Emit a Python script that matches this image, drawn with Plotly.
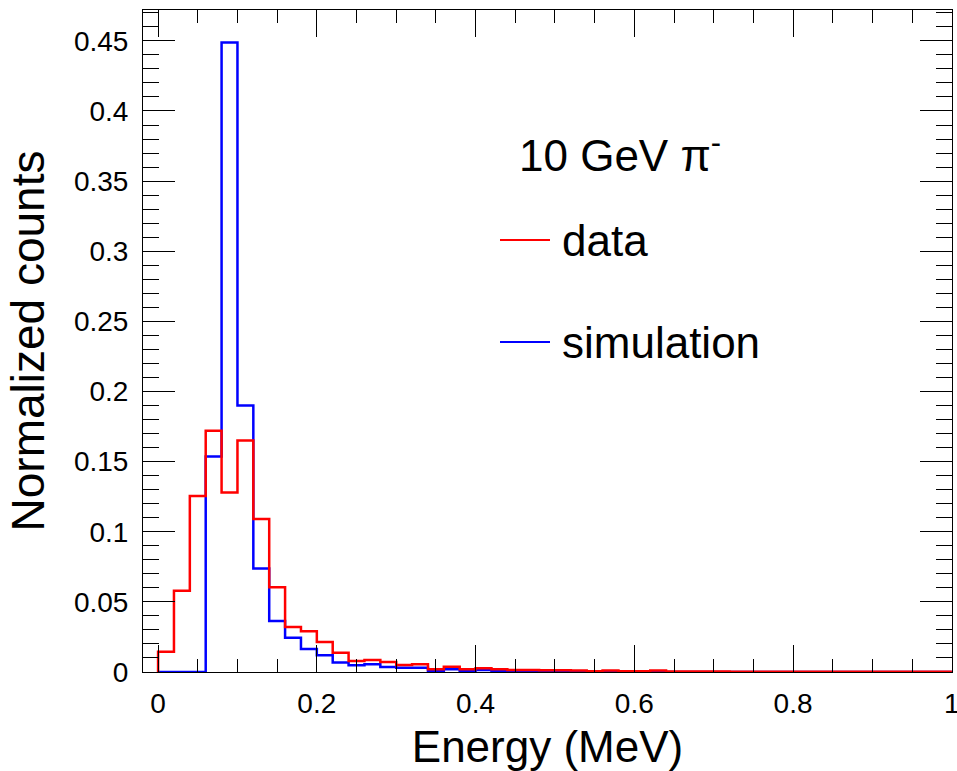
import numpy as np
import plotly.graph_objects as go

# ---- data ----
bin_lo, bin_hi, n_bins = 0.0, 1.0, 50
data_counts = [0.0145, 0.058, 0.1255, 0.172, 0.128, 0.165, 0.109, 0.0605, 0.032, 0.029,
               0.0214, 0.0138, 0.0079, 0.0086, 0.0071, 0.005, 0.0055, 0.0019, 0.0037, 0.0019,
               0.0026, 0.0019, 0.0014, 0.0014, 0.0013, 0.0012, 0.0011, 0.0006, 0.0011, 0.0005,
               0.0005, 0.001, 0.0004, 0.0003, 0.0003, 0.0003, 0.0002, 0.0002, 0.0002, 0.0002,
               0.0002, 0.0002, 0.0002, 0.0002, 0.0002, 0.0002, 0.0002, 0.0002, 0.0002, 0.0002]
sim_counts = [0.0, 0.0, 0.0, 0.1536, 0.4488, 0.19, 0.0738, 0.0364, 0.0245, 0.0164,
              0.012, 0.0067, 0.0048, 0.0055, 0.0036, 0.0031, 0.003, 0.0008, 0.002, 0.0008,
              0.0014, 0.0008, 0.0006, 0.0005, 0.0004, 0.0003, 0.0001, 0.0001, 0.0, 0.0,
              0.0, 0.0, 0.0, 0.0, 0.0, 0.0, 0.0, 0.0, 0.0, 0.0,
              0.0, 0.0, 0.0, 0.0, 0.0, 0.0, 0.0, 0.0, 0.0, 0.0]
series_names = ["data", "simulation"]
x_tick_vals = [0, 0.2, 0.4, 0.6, 0.8, 1.0]
x_tick_text = ["0", "0.2", "0.4", "0.6", "0.8", "1"]
header_text = "10 GeV π<sup>-</sup>"
x_title = "Energy (MeV)"
y_title = "Normalized counts"

edges = np.linspace(bin_lo, bin_hi, n_bins + 1)


def step_xy(vals):
    xs = np.concatenate([[edges[0]], edges[:-1], [edges[-1]]])
    ys = np.concatenate([[0.0], vals, [vals[-1]]])
    return xs, ys


FONT = "Liberation Sans, Arial, Helvetica, sans-serif"
RED = "#ff0000"
BLUE = "#0000ff"

fig = go.Figure()
xs, ys = step_xy(np.array(sim_counts))
fig.add_trace(go.Scatter(x=xs, y=ys, mode="lines", line=dict(color=BLUE, width=2.5, shape="hv"),
                         name=series_names[1], showlegend=False))
xs, ys = step_xy(np.array(data_counts))
fig.add_trace(go.Scatter(x=xs, y=ys, mode="lines", line=dict(color=RED, width=2.5, shape="hv"),
                         name=series_names[0], showlegend=False))

axis_common = dict(showline=True, linecolor="black", linewidth=1, mirror="ticks",
                   ticks="inside", tickcolor="black", tickwidth=1, showgrid=False,
                   zeroline=False, tickfont=dict(family=FONT, size=28, color="black"),
                   ticklabeloverflow="allow")

fig.update_xaxes(range=[-0.019, 1.0002], tickmode="array", tickvals=x_tick_vals, ticktext=x_tick_text,
                 ticklen=27,
                 minor=dict(ticks="inside", dtick=0.05, tick0=0, ticklen=13, tickcolor="black", showgrid=False),
                 title=dict(text=x_title, font=dict(family=FONT, size=44, color="black"), standoff=14),
                 ticklabelstandoff=6,
                 **axis_common)
fig.update_yaxes(range=[0, 0.472], dtick=0.05, tick0=0, ticklen=32,
                 minor=dict(ticks="inside", dtick=0.01, ticklen=16, tickcolor="black", showgrid=False),
                 title=dict(text=y_title, font=dict(family=FONT, size=46, color="black"), standoff=14),
                 ticklabelstandoff=8,
                 **axis_common)

# legend (manual, ROOT style)
px0, px1, py0, py1 = 143, 952, 10, 672


def pxx(p):
    return (p - px0) / (px1 - px0)


def pyy(p):
    return (py1 - p) / (py1 - py0)


fig.add_annotation(x=pxx(517), y=pyy(152), xref="paper", yref="paper", text=header_text,
                   showarrow=False, xanchor="left", yanchor="middle",
                   font=dict(family=FONT, size=44, color="black"))
for name, color, py in [(series_names[0], RED, 240), (series_names[1], BLUE, 342)]:
    fig.add_shape(type="line", xref="paper", yref="paper", x0=pxx(500), x1=pxx(550),
                  y0=pyy(py), y1=pyy(py), line=dict(color=color, width=2))
    fig.add_annotation(x=pxx(560), y=pyy(py), xref="paper", yref="paper", text=name,
                       showarrow=False, xanchor="left", yanchor="middle",
                       font=dict(family=FONT, size=44, color="black"))

fig.update_layout(width=957, height=771, margin=dict(l=143, r=5, t=10, b=99, autoexpand=False),
                  paper_bgcolor="white", plot_bgcolor="white",
                  font=dict(family=FONT, color="black"))

fig.write_html("out.html")
